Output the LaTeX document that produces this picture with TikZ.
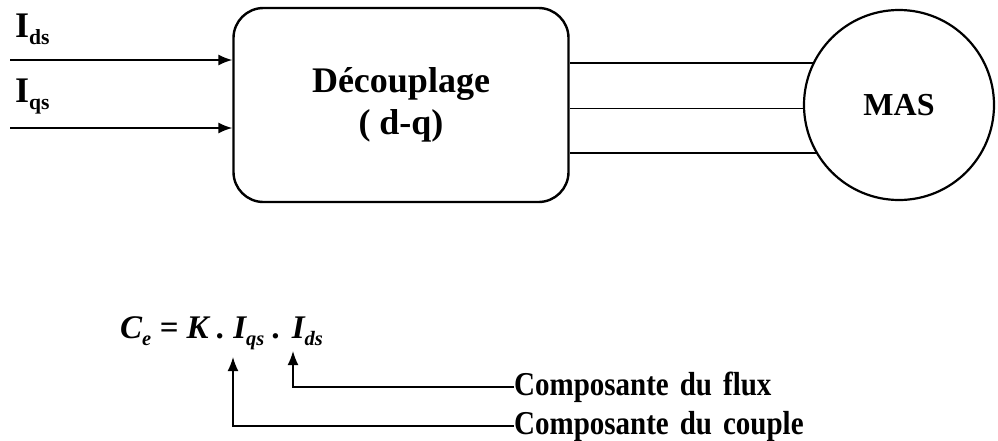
\documentclass[tikz,border=0pt]{standalone}
\usepackage{fontspec}
\usepackage{graphicx}
\setmainfont{Liberation Serif}
\usetikzlibrary{arrows.meta}
\newcommand{\lowidx}[2][0.55]{\raisebox{-0.22em}{\scalebox{#1}{#2}}}
\newcommand{\tall}[1]{\scalebox{1}[1.15]{#1}}
\newcommand{\gap}{\hspace{11pt}}
\tikzset{
  lbl/.style={font=\fontsize{36}{36}\selectfont\bfseries, inner sep=0pt},
  note/.style={font=\fontsize{29}{29}\selectfont\bfseries, inner sep=0pt},
  wire/.style={line width=1.6pt},
  sig/.style={wire, -{Latex[length=14pt,width=11pt]}},
}
\begin{document}
\begin{tikzpicture}[x=1pt,y=-1pt]
\useasboundingbox (0,0) rectangle (998,440);
\node[draw, line width=2.4pt, rounded corners=30pt, minimum width=335pt, minimum height=194pt,
  align=center, font=\fontsize{36}{42}\selectfont\bfseries] (dec) at (401,105) {Découplage\\( d-q)};
\node[draw, circle, line width=2.2pt, minimum size=190pt, inner sep=0pt,
  font=\fontsize{32}{32}\selectfont\bfseries] (mas) at (899,105) {MAS};
\node[lbl, anchor=base west] (ids) at (15,37) {I\lowidx[0.6]{ds}};
\node[lbl, anchor=base west] (iqs) at (15,102) {I\lowidx[0.6]{qs}};
\coordinate (in1) at (10,60);
\coordinate (in2) at (10,128);
\draw[sig] (in1) -- (in1 -| dec.west);
\draw[sig] (in2) -- (in2 -| dec.west);
\foreach \a in {154,182,210} \draw[wire] (mas.\a) -- (mas.\a -| dec.east);
\node[anchor=base west, inner sep=0pt, font=\fontsize{33}{33}\selectfont\bfseries\itshape] (eq) at (120,338)
  {C\lowidx[0.62]{e} = K . I\lowidx[0.62]{qs} . I\lowidx[0.62]{ds}};
\coordinate (qtip) at (233,357);
\coordinate (dtip) at (293,351);
\node[note, anchor=west] (flux) at (514,387) {\tall{Composante\gap du\gap flux}};
\node[note, anchor=west] (couple) at (514,426) {\tall{Composante\gap du\gap couple}};
\draw[sig] (flux.west) -| (dtip);
\draw[sig] (couple.west) -| (qtip);
\end{tikzpicture}
\end{document}
